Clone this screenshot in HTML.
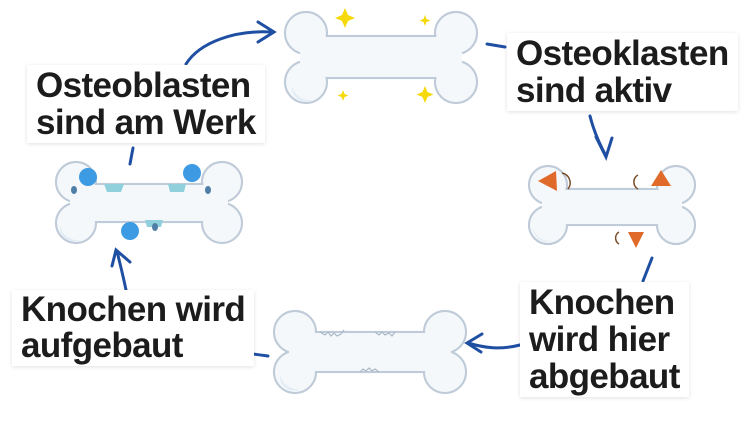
<!DOCTYPE html>
<html><head><meta charset="utf-8"><style>
html,body{margin:0;padding:0;background:#fff;}
body{width:750px;height:421px;overflow:hidden;position:relative;font-family:"Liberation Sans",sans-serif;}
.lbl{position:absolute;background:#fff;color:#1c1c1c;font-weight:bold;font-size:35px;line-height:37px;padding:2px 9px;box-shadow:0 1px 4px rgba(0,0,0,0.12);white-space:nowrap;letter-spacing:-0.6px;}
svg{position:absolute;left:0;top:0;}
</style></head><body>
<svg width="750" height="421" viewBox="0 0 750 421">
<g stroke="#bfcbd8" stroke-width="2.2" fill="#f5f8fb">
 <circle cx="306" cy="33" r="21"/><circle cx="306" cy="82" r="21"/><circle cx="456" cy="33" r="21"/><circle cx="456" cy="82" r="21"/><rect x="306" y="36" width="150" height="42"/>
 <circle cx="76" cy="182" r="20"/><circle cx="76" cy="223" r="20"/><circle cx="222" cy="182" r="20"/><circle cx="222" cy="223" r="20"/><rect x="76" y="184" width="146" height="38"/>
 <circle cx="548" cy="185" r="19"/><circle cx="548" cy="225" r="19"/><circle cx="676" cy="185" r="19"/><circle cx="676" cy="225" r="19"/><rect x="548" y="189" width="128" height="36"/>
 <circle cx="295" cy="332" r="21"/><circle cx="295" cy="372" r="21"/><circle cx="445" cy="332" r="21"/><circle cx="445" cy="372" r="21"/><rect x="295" y="332" width="150" height="40"/>
</g>
<g fill="#f5f8fb" stroke="none">
 <circle cx="306" cy="33" r="19.9"/><circle cx="306" cy="82" r="19.9"/><circle cx="456" cy="33" r="19.9"/><circle cx="456" cy="82" r="19.9"/><rect x="300" y="37.1" width="162" height="39.8"/>
 <circle cx="76" cy="182" r="18.9"/><circle cx="76" cy="223" r="18.9"/><circle cx="222" cy="182" r="18.9"/><circle cx="222" cy="223" r="18.9"/><rect x="70" y="185.1" width="158" height="35.8"/>
 <circle cx="548" cy="185" r="17.9"/><circle cx="548" cy="225" r="17.9"/><circle cx="676" cy="185" r="17.9"/><circle cx="676" cy="225" r="17.9"/><rect x="542" y="190.1" width="140" height="33.8"/>
 <circle cx="295" cy="332" r="19.9"/><circle cx="295" cy="372" r="19.9"/><circle cx="445" cy="332" r="19.9"/><circle cx="445" cy="372" r="19.9"/><rect x="289" y="333.1" width="162" height="37.8"/>
</g>
<g fill="#dce8f3" opacity="0.8">
 <path d="M292 86 a14 14 0 0 0 20 14 a18 18 0 0 1 -20 -14z"/>
 <path d="M60 226 a14 14 0 0 0 20 14 a18 18 0 0 1 -20 -14z"/>
 <path d="M533 228 a14 14 0 0 0 20 12 a16 16 0 0 1 -20 -12z"/>
 <path d="M280 375 a14 14 0 0 0 20 14 a18 18 0 0 1 -20 -14z"/>
</g>
<g stroke="#a9b8c6" stroke-width="1.2" fill="none">
 <path d="M320 332 l5 3 l3 -3 l3 4 l3 -3 l3 3 l4 -2 l3 -4"/>
 <path d="M375 332 l4 3 l3 -3 l3 3 l4 -2 l3 3 l3 -4"/>
 <path d="M360 372 l3 -3 l3 2 l3 -3 l3 3 l3 -2 l4 3"/>
</g>
<g fill="#f5d90a">
 <path d="M345 8 l3 7 l7 3 l-7 3 l-3 7 l-3 -7 l-7 -3 l7 -3z"/>
 <path d="M425 86 l2.5 6 l6 2.5 l-6 2.5 l-2.5 6 l-2.5 -6 l-6 -2.5 l6 -2.5z"/>
 <path d="M343 90 l1.5 4 l4 1.5 l-4 1.5 l-1.5 4 l-1.5 -4 l-4 -1.5 l4 -1.5z"/>
 <path d="M425 15 l1.5 4 l4 1.5 l-4 1.5 l-1.5 4 l-1.5 -4 l-4 -1.5 l4 -1.5z"/>
</g>
<g fill="#3d9be3">
 <circle cx="88" cy="177" r="9"/><circle cx="192" cy="173" r="9"/><circle cx="130" cy="231" r="9"/>
</g>
<g fill="#8fd0dc">
 <path d="M104 184 h20 l-3 8 h-14z"/><path d="M168 184 h18 l-2 8 h-14z"/><path d="M145 220 h18 l-2 7 h-14z"/>
</g>
<g fill="#4f7fa6"><ellipse cx="74" cy="190" rx="3" ry="4"/><ellipse cx="208" cy="190" rx="3" ry="4"/><ellipse cx="155" cy="227" rx="3" ry="4"/></g>
<g fill="#e06a2a">
 <path d="M538 181 l18 -10 l1 20z"/>
 <path d="M651 186 l10 -16 l10 16z"/>
 <path d="M628 232 h16 l-8 16z"/>
</g>
<g stroke="#7a4e2a" stroke-width="1.5" fill="none">
 <path d="M562 173 a10 10 0 0 1 6 16"/><path d="M638 175 a8 8 0 0 0 0 14"/><path d="M619 232 a7 7 0 0 0 0 12"/>
</g>
<g stroke="#1f4fa2" stroke-width="3" fill="none" stroke-linecap="round">
 <path d="M186 64 C200 42 235 30 272 32"/>
 <path d="M258 22 L274 32 L258 42"/>
 <path d="M487 44 L505 47"/>
 <path d="M590 116 C594 132 600 145 606 156"/>
 <path d="M596 137 L606 157 L612 138"/>
 <path d="M652 258 L643 281"/>
 <path d="M520 345 C500 350 485 348 468 343"/>
 <path d="M482 334 L467 343 L481 352"/>
 <path d="M268 356 C240 352 215 350 203 344"/>
 <path d="M126 290 C123 275 119 260 117 251"/>
 <path d="M112 266 L116 250 L130 262"/>
 <path d="M133 148 L130 164"/>
</g>
</svg>
<div class="lbl" style="left:27px;top:65px;">Osteoblasten<br>sind am Werk</div>
<div class="lbl" style="left:507px;top:33px;">Osteoklasten<br>sind aktiv</div>
<div class="lbl" style="left:520px;top:282px;">Knochen<br>wird hier<br>abgebaut</div>
<div class="lbl" style="left:12px;top:290px;line-height:36px;">Knochen wird<br>aufgebaut</div>
</body></html>
